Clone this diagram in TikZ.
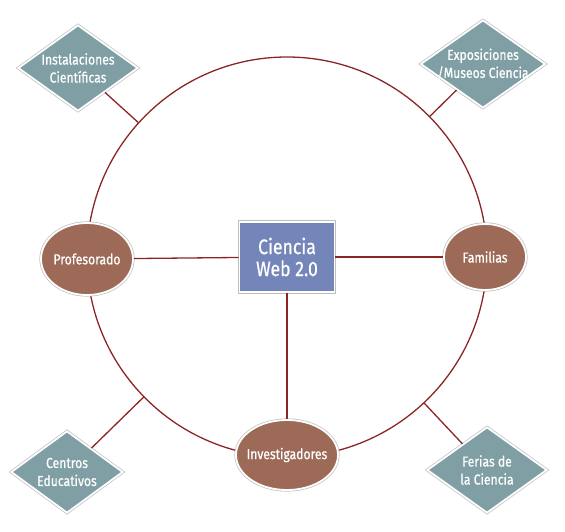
\documentclass[tikz,border=0pt]{standalone}
\usepackage{fontspec}
\setmainfont{Fira Sans}
\newfontfamily\lblfont{Fira Sans}[FakeStretch=0.84,FakeBold=0.6]
\usetikzlibrary{shapes.geometric,calc}
\definecolor{linered}{HTML}{8B2525}
\definecolor{brownfill}{HTML}{9E6A58}
\definecolor{diafill}{HTML}{7F9FA5}
\definecolor{boxfill}{HTML}{7486B9}
\tikzset{
  conn/.style={draw=linered, line width=1.3pt},
  edgeframe/.style={draw=white, line width=1.8pt, preaction={draw=black!25, line width=3.2pt}},
  ovalnode/.style={ellipse, edgeframe, fill=brownfill, inner sep=0pt},
  dianode/.style={diamond, edgeframe, fill=diafill, inner sep=0pt},
  boxnode/.style={rectangle, edgeframe, fill=boxfill, minimum width=95pt, minimum height=70pt, align=center, text=white, font=\lblfont\fontsize{21}{22}\selectfont},
  lbl/.style={text=white, align=center, font=\lblfont\fontsize{14.5}{18}\selectfont}
}
\begin{document}
\begin{tikzpicture}[x=1pt,y=-1pt]
\useasboundingbox (0,0) rectangle (565,532);
\coordinate (C) at (287,257);
\draw[conn] (C) circle (200);
% diamonds
\node[dianode, minimum width=120pt, minimum height=86pt, label={[lbl]center:Instalaciones\\Científicas}] (d1) at (78,68) {};
\node[dianode, minimum width=125pt, minimum height=88pt, label={[lbl]center:Exposiciones\\/Museos Ciencia}] (d2) at (483,64) {};
\node[dianode, minimum width=112pt, minimum height=82pt, label={[lbl]center:Centros\\Educativos}] (d3) at (67,472) {};
\node[dianode, minimum width=120pt, minimum height=86pt, label={[lbl]center:Ferias de\\la Ciencia}] (d4) at (487,470) {};
\coordinate (p1) at ($(C)!200pt!(d1)$);
\coordinate (p2) at ($(C)!200pt!(d2)$);
\coordinate (p3) at ($(C)!200pt!(d3)$);
\coordinate (p4) at ($(C)!200pt!(d4)$);
\draw[conn] (d1) -- (p1);
\draw[conn] (d2) -- (p2);
\draw[conn] (d3) -- (p3);
\draw[conn] (d4) -- (p4);
% center box
\node[boxnode] (web) at (287,257) {Ciencia\\Web 2.0};
% ovals
\node[ovalnode, minimum width=92pt, minimum height=72pt, label={[lbl]center:Profesorado}] (prof) at (87,259) {};
\node[ovalnode, minimum width=82pt, minimum height=66pt, label={[lbl]center:Familias}] (fam) at (485,257) {};
\node[ovalnode, minimum width=102pt, minimum height=70pt, label={[lbl]center:Investigadores}] (inv) at (287,455) {};
\draw[conn] (web) -- (prof);
\draw[conn] (web) -- (fam);
\draw[conn] (web) -- (inv);
\end{tikzpicture}
\end{document}
